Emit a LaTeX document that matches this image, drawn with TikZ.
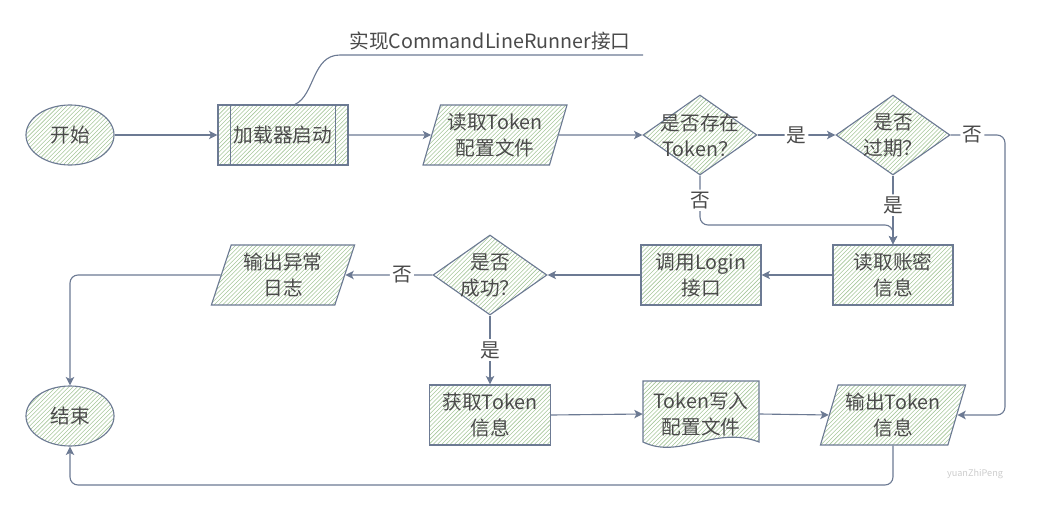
\documentclass[tikz,border=0pt]{standalone}
\usepackage{fontspec}
\newfontfamily\cjkfont{Noto Sans CJK SC}
\usepackage{tikz}
\usetikzlibrary{shapes.geometric,arrows.meta,patterns}

\definecolor{linecol}{HTML}{6C7A93}
\definecolor{hatchcol}{HTML}{A6C79A}
\definecolor{txtcol}{HTML}{4A4A4A}

\begin{document}
\begin{tikzpicture}[x=0.025cm, y=-0.025cm,
  every node/.style={font=\cjkfont\fontsize{14}{18.5}\selectfont, text=txtcol, align=center},
  ln/.style={draw=linecol, line width=0.8pt},
  shp/.style={ln, pattern=north east lines, pattern color=hatchcol, inner sep=2pt},
  term/.style={shp, ellipse, minimum width=2.2cm, minimum height=1.5cm},
  proc/.style={shp, rectangle, minimum width=3cm, minimum height=1.5cm},
  io/.style={shp, trapezium, trapezium left angle=72, trapezium right angle=108,
    trapezium stretches=true, minimum width=3.625cm, minimum height=1.5cm},
  dec/.style={shp, diamond, minimum width=2.85cm, minimum height=2cm, inner sep=0pt},
  arr/.style={ln, rounded corners=0.2cm, -{Stealth[length=6pt,width=6pt,inset=1.5pt]}},
  lbl/.style={fill=white, inner sep=1.5pt}
]
  \useasboundingbox (0,0) rectangle (1039,519);

  % top row
  \node[term] (start) at (70,135) {开始};
  \node[proc, minimum width=3.25cm] (loader) at (283,135) {加载器启动};
  \draw[ln] ([xshift=0.325cm]loader.north west) -- ([xshift=0.325cm]loader.south west);
  \draw[ln] ([xshift=-0.325cm]loader.north east) -- ([xshift=-0.325cm]loader.south east);
  \node[io] (readcfg) at (495,135) {读取Token\\配置文件};
  \node[dec] (has) at (700,135) {};
  \node (has-t) at (has) {是否存在\\Token？};
  \node[dec] (expd) at (893,135) {};
  \node (expd-t) at (expd) {是否\\过期？};

  % annotation
  \coordinate (ann) at (340,55);
  \coordinate (ann-e) at (643,55);
  \draw[ln] ([xshift=0.3cm]loader.north) .. controls (315,95) and (312,55) .. (ann) -- (ann-e);
  \node (anno) at (490,41) {实现CommandLineRunner接口};

  % middle row
  \node[proc] (readpw) at (893,275) {读取账密\\信息};
  \node[proc] (login) at (701,275) {调用Login\\接口};
  \node[dec] (succ) at (490,275) {};
  \node (succ-t) at (succ) {是否\\成功？};
  \node[io, minimum width=3.6cm] (errlog) at (283,275) {输出异常\\日志};

  % bottom row
  \node[term] (stop) at (70,416) {结束};
  \node[proc, minimum width=3.025cm] (gettok) at (490,415) {获取Token\\信息};
  \draw[shp] (643,381) -- (759,381) -- (759,442) .. controls (715,425) and (680,460) .. (643,442) -- cycle;
  \node[minimum width=2.9cm, minimum height=1.5cm] (doc) at (701,414) {Token写入\\配置文件};
  \node[io, minimum width=3.65cm] (outtok) at (893,415) {输出Token\\信息};

  \node[font=\cjkfont\fontsize{6.5}{8}\selectfont, text=black!20] (wm) at (975,474) {yuanZhiPeng};

  % connectors
  \draw[arr] (start.east) -- (loader.west);
  \draw[arr] (loader.east) -- (readcfg.west);
  \draw[arr] (readcfg.east) -- (has.west);
  \draw[arr] (has.east) -- node[lbl]{是} (expd.west);
  \coordinate (rt) at (1005,135);
  \draw[arr] (expd.east) -- node[lbl, pos=0.4]{否} (rt) |- (outtok.east);
  \coordinate (jn) at (893,225);
  \draw[arr] (has.south) -- node[lbl]{否} (has.south |- jn) -| (readpw.north);
  \draw[arr] (expd.south) -- node[lbl, pos=0.43]{是} (readpw.north);
  \draw[arr] (readpw.west) -- (login.east);
  \draw[arr] (login.west) -- (succ.east);
  \draw[arr] (succ.west) -- node[lbl, pos=0.35]{否} (errlog.east);
  \draw[arr] (errlog.west) -| (stop.north);
  \draw[arr] (succ.south) -- node[lbl]{是} (gettok.north);
  \draw[arr] (gettok.east) -- (doc.west);
  \draw[arr] (doc.east) -- (outtok.west);
  \coordinate (bt) at (893,485);
  \draw[arr] (outtok.center |- outtok.south) -- (bt) -| (stop.south);
\end{tikzpicture}
\end{document}
